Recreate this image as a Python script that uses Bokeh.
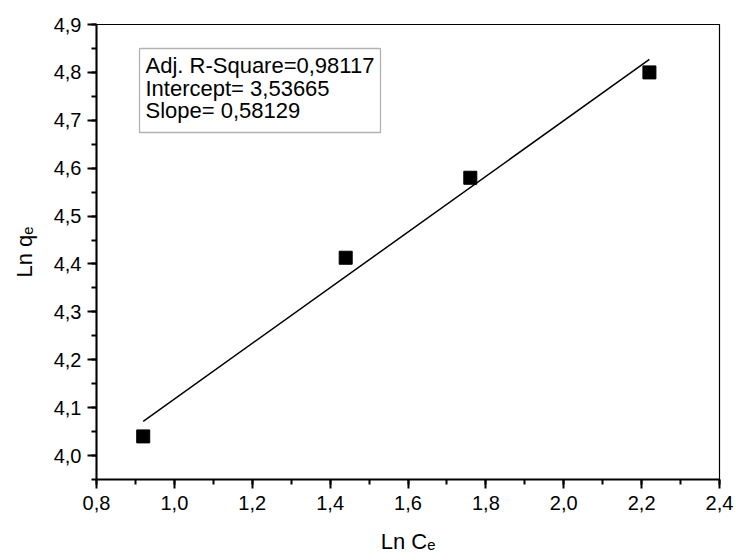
from bokeh.plotting import figure
from bokeh.models import (Range1d, FixedTicker, CustomJSTickFormatter, Label,
                          BoxAnnotation)
from bokeh.embed import file_html
from bokeh.resources import INLINE

# data
ln_ce = [0.92, 1.44, 1.76, 2.22]
ln_qe = [4.04, 4.413, 4.58, 4.80]
intercept = 3.53665
slope = 0.58129
adj_r2 = "0,98117"
x_ticks = [0.8, 1.0, 1.2, 1.4, 1.6, 1.8, 2.0, 2.2, 2.4]
y_ticks = [4.0, 4.1, 4.2, 4.3, 4.4, 4.5, 4.6, 4.7, 4.8, 4.9]
x_title = "Ln C\u2091"
y_title = "Ln q\u2091"

fit_x = [min(ln_ce), max(ln_ce)]
fit_y = [intercept + slope * v for v in fit_x]

p = figure(width=736, height=560, output_backend="svg", toolbar_location=None,
           x_range=Range1d(0.8, 2.4), y_range=Range1d(3.95, 4.9),
           min_border_left=96, min_border_right=17, min_border_top=24,
           min_border_bottom=81)
p.grid.visible = False
p.outline_line_color = "black"
p.outline_line_width = 1.2
p.background_fill_color = "white"
p.border_fill_color = "white"

p.line(fit_x, fit_y, line_color="black", line_width=1.5)
p.scatter(ln_ce, ln_qe, marker="square", size=13, color="black")

fmt = CustomJSTickFormatter(code="return tick.toFixed(1).replace('.', ',');")
x_minor = [round(0.8 + 0.1 * i, 2) for i in range(17)]
y_minor = [round(3.95 + 0.05 * i, 3) for i in range(20)]
p.xaxis.ticker = FixedTicker(ticks=x_ticks, minor_ticks=x_minor)
p.yaxis.ticker = FixedTicker(ticks=y_ticks, minor_ticks=y_minor)
for ax in (p.xaxis, p.yaxis):
    ax.formatter = fmt
    ax.major_label_text_font = "Liberation Sans"
    ax.major_label_text_font_size = "20px"
    ax.major_label_text_color = "black"
    ax.axis_line_width = 2
    ax.axis_line_color = "black"
    ax.major_tick_line_color = "black"
    ax.minor_tick_line_color = "black"
    ax.major_tick_line_width = 2
    ax.minor_tick_line_width = 2
    ax.major_tick_in = 0
    ax.major_tick_out = 9
    ax.minor_tick_in = 0
    ax.minor_tick_out = 5
    ax.axis_label_text_font = "Liberation Sans"
    ax.axis_label_text_font_size = "22px"
    ax.axis_label_text_font_style = "normal"
    ax.axis_label_text_color = "black"
p.xaxis.major_label_standoff = 7
p.yaxis.major_label_standoff = 6
p.xaxis.axis_label = x_title
p.yaxis.axis_label = y_title
p.xaxis.axis_label_standoff = 16
p.yaxis.axis_label_standoff = 14

# fit statistics box
p.add_layout(BoxAnnotation(left=43, right=284, top=431, bottom=347,
                           left_units="screen", right_units="screen",
                           top_units="screen", bottom_units="screen",
                           fill_color="white", fill_alpha=1,
                           line_color="black", line_width=1.3))
lines = ["Adj. R-Square=" + adj_r2,
         "Intercept= " + f"{intercept:.5f}".replace(".", ","),
         "Slope= " + f"{slope:.5f}".replace(".", ",")]
for t, yy in zip(lines, [414, 391, 369]):
    p.add_layout(Label(x=49, y=yy, x_units="screen", y_units="screen", text=t,
                       text_font="Liberation Sans", text_font_size="22px",
                       text_color="black", text_align="left",
                       text_baseline="alphabetic"))

open("out.html", "w").write(file_html(p, INLINE))
